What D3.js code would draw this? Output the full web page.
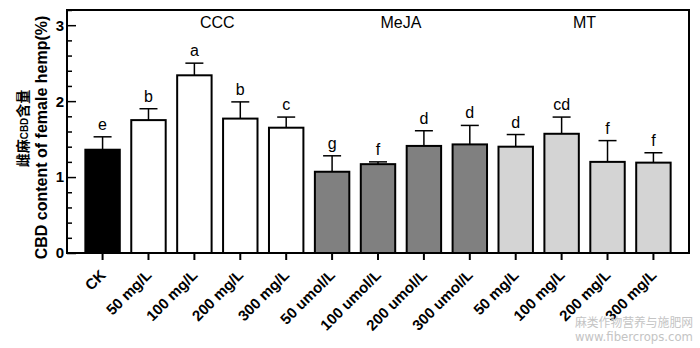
<!DOCTYPE html>
<html>
<head>
<meta charset="utf-8">
<script src="https://cdn.jsdelivr.net/npm/d3@7/dist/d3.min.js"></script>
<style>
  html, body { margin: 0; padding: 0; background: #fff; }
  svg { display: block; }
</style>
</head>
<body>
<svg id="chart" width="700" height="348"></svg>
<script>
// Treatments on the x axis
const categories = ["CK", "50 mg/L", "100 mg/L", "200 mg/L", "300 mg/L",
  "50 umol/L", "100 umol/L", "200 umol/L", "300 umol/L",
  "50 mg/L ", "100 mg/L ", "200 mg/L ", "300 mg/L "];
// Treatment group of each bar
const groups = ["CK", "CCC", "CCC", "CCC", "CCC",
  "MeJA", "MeJA", "MeJA", "MeJA", "MT", "MT", "MT", "MT"];
// Mean CBD content (%)
const values = [1.36, 1.75, 2.34, 1.77, 1.65, 1.07, 1.17, 1.41, 1.43, 1.40, 1.57, 1.20, 1.19];
// Standard deviation (upper bar only)
const errors = [0.17, 0.15, 0.16, 0.22, 0.14, 0.21, 0.03, 0.20, 0.25, 0.16, 0.22, 0.28, 0.13];
// Significance letters
const letters = ["e", "b", "a", "b", "c", "g", "f", "d", "d", "d", "cd", "f", "f"];
// Group headings and the bars they sit over
const groupNames = ["CCC", "MeJA", "MT"];
const groupSpan = [[1, 4], [5, 8], [9, 12]];
const yTicks = [0, 1, 2, 3];

const fills = { CK: "#000000", CCC: "#ffffff", MeJA: "#808080", MT: "#d4d4d4" };

const W = 700, H = 348;
const margin = { top: 10, right: 11, bottom: 95, left: 67 };
const svg = d3.select("#chart");

const x = d3.scaleBand()
  .domain(categories)
  .range([margin.left, W - margin.right])
  .paddingInner(0.25)
  .paddingOuter(0.4);

const y = d3.scaleLinear()
  .domain([0, 3.2])
  .range([H - margin.bottom, margin.top]);

const sans = "Arial, 'Liberation Sans', Helvetica, sans-serif";

// Bars
svg.append("g").selectAll("rect")
  .data(values)
  .join("rect")
  .attr("x", (d, i) => x(categories[i]))
  .attr("y", d => y(d))
  .attr("width", x.bandwidth())
  .attr("height", d => y(0) - y(d))
  .attr("fill", (d, i) => fills[groups[i]])
  .attr("stroke", "#000")
  .attr("stroke-width", 2);

// Error bars (upper whisker)
const eb = svg.append("g").attr("stroke", "#000").attr("stroke-width", 1.5);
values.forEach((v, i) => {
  const cx = x(categories[i]) + x.bandwidth() / 2;
  eb.append("line").attr("x1", cx).attr("x2", cx)
    .attr("y1", y(v)).attr("y2", y(v + errors[i]));
  eb.append("line").attr("x1", cx - 9).attr("x2", cx + 9)
    .attr("y1", y(v + errors[i])).attr("y2", y(v + errors[i]));
});

// Significance letters
svg.append("g").selectAll("text")
  .data(letters)
  .join("text")
  .attr("x", (d, i) => x(categories[i]) + x.bandwidth() / 2)
  .attr("y", (d, i) => y(values[i] + errors[i]) - 7)
  .attr("text-anchor", "middle")
  .attr("font-family", sans)
  .attr("font-size", 16)
  .text(d => d);

// Group headings
svg.append("g").selectAll("text")
  .data(groupNames)
  .join("text")
  .attr("x", (d, i) => {
    const a = x(categories[groupSpan[i][0]]);
    const b = x(categories[groupSpan[i][1]]) + x.bandwidth();
    return (a + b) / 2;
  })
  .attr("y", 28)
  .attr("text-anchor", "middle")
  .attr("font-family", sans)
  .attr("font-size", 16)
  .text(d => d);

// Frame
svg.append("rect")
  .attr("x", margin.left).attr("y", margin.top)
  .attr("width", W - margin.left - margin.right)
  .attr("height", H - margin.top - margin.bottom)
  .attr("fill", "none").attr("stroke", "#000").attr("stroke-width", 2);

// Y axis: inward major and minor ticks
const yAxis = svg.append("g").attr("transform", `translate(${margin.left},0)`);
yAxis.call(d3.axisRight(y).tickValues(yTicks).tickSize(9).tickFormat(""))
  .call(g => g.select(".domain").remove())
  .call(g => g.selectAll("line").attr("stroke-width", 1.5));
const minor = d3.range(0, 3.2001, 0.2).filter(v => Math.abs(v - Math.round(v)) > 1e-6);
yAxis.append("g").call(d3.axisRight(y).tickValues(minor).tickSize(5).tickFormat(""))
  .call(g => g.select(".domain").remove())
  .call(g => g.selectAll("line").attr("stroke-width", 1.5));
svg.append("g").selectAll("text")
  .data(yTicks)
  .join("text")
  .attr("x", margin.left - 3)
  .attr("y", d => y(d))
  .attr("dy", "0.36em")
  .attr("text-anchor", "end")
  .attr("font-family", sans)
  .attr("font-weight", "bold")
  .attr("font-size", 15)
  .text(d => d);

// X axis ticks and rotated labels
const xAxis = svg.append("g").attr("transform", `translate(0,${y(0)})`);
xAxis.call(d3.axisBottom(x).tickSize(7).tickFormat(""))
  .call(g => g.select(".domain").remove())
  .call(g => g.selectAll("line").attr("stroke-width", 2));
svg.append("g").selectAll("text")
  .data(categories)
  .join("text")
  .attr("transform", d => `translate(${x(d) + x.bandwidth() / 2 + 4},${y(0) + 23}) rotate(-45)`)
  .attr("text-anchor", "end")
  .attr("font-family", sans)
  .attr("font-weight", "bold")
  .attr("font-size", 15)
  .text(d => d.trim());

// Y axis title (two lines)
const midY = (margin.top + y(0)) / 2 + 6;
const t1 = svg.append("text")
  .attr("transform", `translate(28,${midY - 9}) rotate(-90)`)
  .attr("text-anchor", "middle")
  .attr("font-family", "'Noto Sans CJK SC', sans-serif")
  .attr("font-weight", "bold")
  .attr("font-size", 14);
t1.append("tspan").text("雌麻");
t1.append("tspan").attr("font-family", sans).attr("font-size", 10).text("CBD");
t1.append("tspan").text("含量");
svg.append("text")
  .attr("transform", `translate(47,${midY}) rotate(-90)`)
  .attr("text-anchor", "middle")
  .attr("font-family", sans)
  .attr("font-weight", "bold")
  .attr("font-size", 16)
  .text("CBD content of female hemp(%)");

// Site mark, bottom right
svg.append("text")
  .attr("x", 575).attr("y", 327)
  .attr("textLength", 118).attr("lengthAdjust", "spacingAndGlyphs")
  .attr("font-family", "'Noto Sans CJK SC', sans-serif")
  .attr("font-size", 12).attr("fill", "#c4c4c4")
  .text("麻类作物营养与施肥网");
svg.append("text")
  .attr("x", 575).attr("y", 341)
  .attr("textLength", 118).attr("lengthAdjust", "spacingAndGlyphs")
  .attr("font-family", "'DejaVu Sans', sans-serif")
  .attr("font-size", 12).attr("fill", "#c4c4c4")
  .text("www.fibercrops.com");
</script>
</body>
</html>
